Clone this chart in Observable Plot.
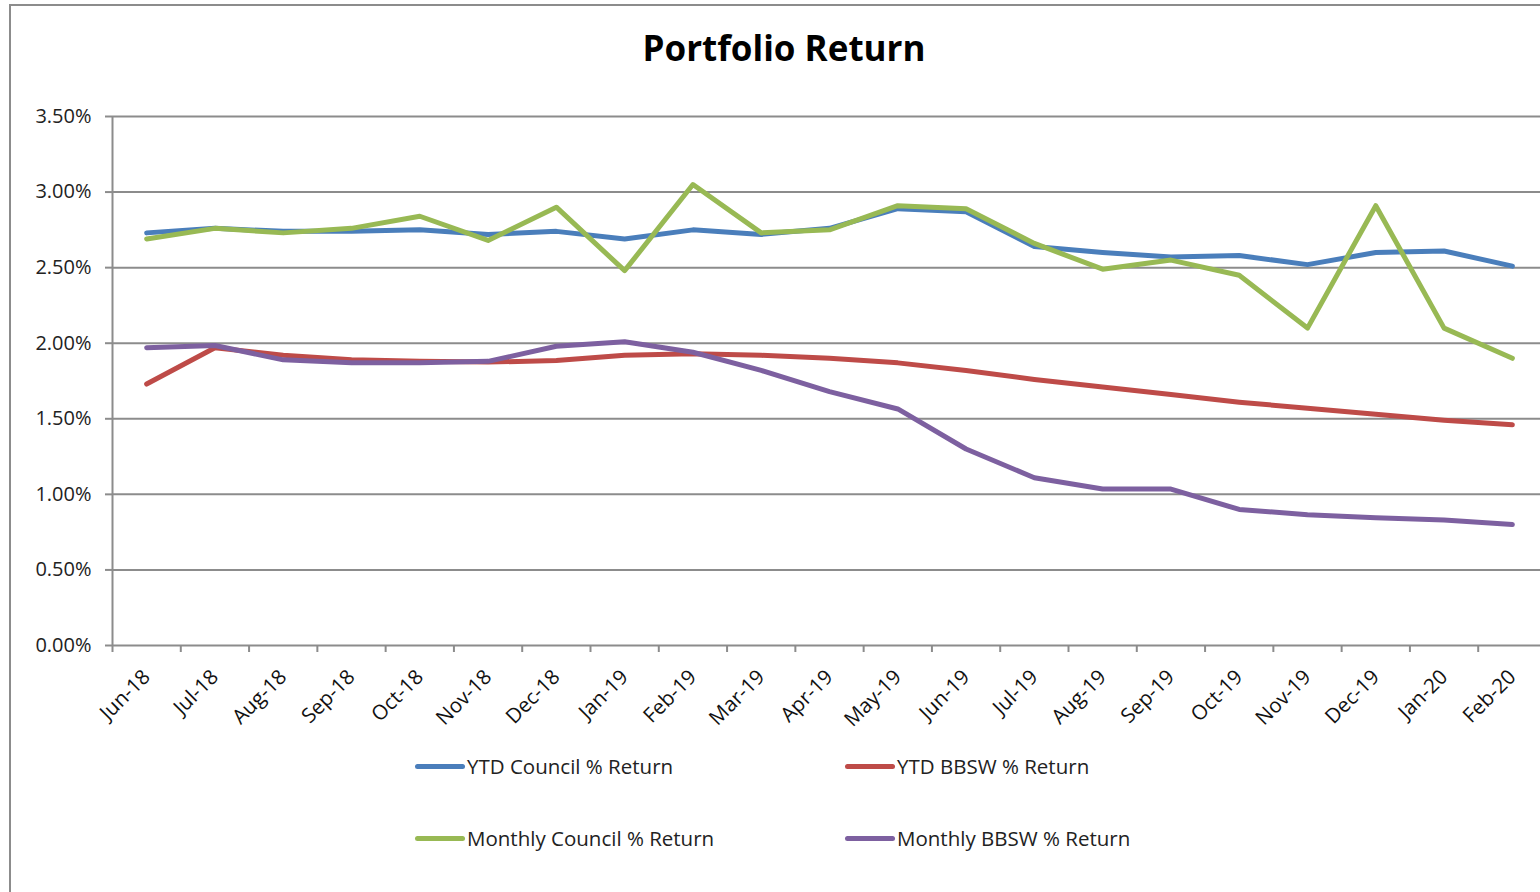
<!DOCTYPE html>
<html>
<head>
<meta charset="utf-8">
<script src="https://cdn.jsdelivr.net/npm/d3@7"></script>
<script src="https://cdn.jsdelivr.net/npm/@observablehq/plot@0.6"></script>
<style>
  html, body { margin: 0; padding: 0; background: #fff; overflow: hidden; }
  #wrap { position: relative; width: 1540px; height: 892px; font-family: "Open Sans", sans-serif; }
  #border { position: absolute; left: 9px; top: 4px; width: 1600px; height: 1000px; border-left: 2px solid #8c8c8c; border-top: 2px solid #8c8c8c; }
  #title { position: absolute; left: 784px; top: 24px; transform: translateX(-50%); font-size: 35px; font-weight: 700; color: #000; white-space: nowrap; }
  .leg { position: absolute; display: flex; align-items: center; font-size: 20.5px; color: #222; white-space: nowrap; }
  .sw { width: 50px; height: 5px; border-radius: 3px; margin-right: 2px; }
  #chart { position: absolute; left: 0; top: 0; }
</style>
</head>
<body>
<div id="wrap">
  <div id="chart"></div>
  <div id="border"></div>
  <div id="title">Portfolio Return</div>
  <div id="legend"></div>
</div>
<script>
const months = ["Jun-18","Jul-18","Aug-18","Sep-18","Oct-18","Nov-18","Dec-18","Jan-19","Feb-19","Mar-19","Apr-19","May-19","Jun-19","Jul-19","Aug-19","Sep-19","Oct-19","Nov-19","Dec-19","Jan-20","Feb-20"];
const ytdCouncil     = [2.73,2.76,2.74,2.74,2.75,2.72,2.74,2.69,2.75,2.72,2.76,2.89,2.87,2.64,2.60,2.57,2.58,2.52,2.60,2.61,2.51];
const ytdBBSW        = [1.73,1.97,1.92,1.89,1.88,1.875,1.885,1.92,1.93,1.92,1.90,1.87,1.82,1.76,1.71,1.66,1.61,1.57,1.53,1.49,1.46];
const monthlyCouncil = [2.69,2.76,2.73,2.76,2.84,2.68,2.90,2.48,3.05,2.73,2.75,2.91,2.89,2.66,2.49,2.55,2.45,2.10,2.91,2.10,1.90];
const monthlyBBSW    = [1.97,1.985,1.89,1.87,1.87,1.88,1.98,2.01,1.94,1.82,1.68,1.565,1.30,1.11,1.035,1.035,0.90,0.865,0.845,0.83,0.80];
const seriesNames  = ["YTD Council % Return","YTD BBSW % Return","Monthly Council % Return","Monthly BBSW % Return"];
const seriesColors = ["#4A7EBB","#BE4B48","#98B954","#7D60A0"];
const yTicks = [0,0.5,1,1.5,2,2.5,3,3.5];

const seriesValues = [ytdCouncil, ytdBBSW, monthlyCouncil, monthlyBBSW];
const rows = [];
seriesValues.forEach((vals, s) => vals.forEach((v, i) => rows.push({series: seriesNames[s], i, month: months[i], value: v})));
const idx = months.map((m, i) => i);
const bounds = d3.range(-0.5, months.length, 1);

const gridColor = "#8c8c8c";
const plot = Plot.plot({
  width: 1540,
  height: 892,
  marginTop: 116,
  marginBottom: 247,
  marginLeft: 112,
  marginRight: 0,
  style: {fontFamily: "Open Sans, sans-serif", background: "transparent", overflow: "visible"},
  x: {type: "linear", domain: [-0.5, months.length - 0.5], range: [112, 1546]},
  y: {domain: [0, 3.5]},
  marks: [
    Plot.ruleY(yTicks, {stroke: gridColor, strokeWidth: 2, strokeOpacity: 1}),
    Plot.ruleX([-0.5], {y1: 0, y2: 3.5, stroke: gridColor, strokeWidth: 2}),
    Plot.axisY({ticks: yTicks, tickFormat: d => d.toFixed(2) + "%", tickSize: 7, tickPadding: 14, stroke: gridColor, strokeWidth: 2, fontSize: 20, color: "#222", label: null}),
    Plot.axisX({ticks: bounds, tickFormat: () => "", tickSize: 7, stroke: gridColor, strokeWidth: 2, label: null}),
    Plot.axisX({ticks: idx, tickFormat: i => months[i], tickSize: 0, tickPadding: 28, tickRotate: -45, fontSize: 20.5, color: "#111", label: null}),
    Plot.line(rows, {x: "i", y: "value", z: "series", stroke: d => seriesColors[seriesNames.indexOf(d.series)], strokeWidth: 5, strokeLinejoin: "round", strokeLinecap: "round"})
  ]
});
document.getElementById("chart").appendChild(plot);

const legendPos = [[415, 766], [845, 766], [415, 838], [845, 838]];
const legend = document.getElementById("legend");
seriesNames.forEach((name, s) => {
  const el = document.createElement("div");
  el.className = "leg";
  el.style.left = legendPos[s][0] + "px";
  el.style.top = (legendPos[s][1] - 14) + "px";
  el.style.height = "28px";
  el.innerHTML = `<div class="sw" style="background:${seriesColors[s]}"></div><span>${name}</span>`;
  legend.appendChild(el);
});
</script>
</body>
</html>
